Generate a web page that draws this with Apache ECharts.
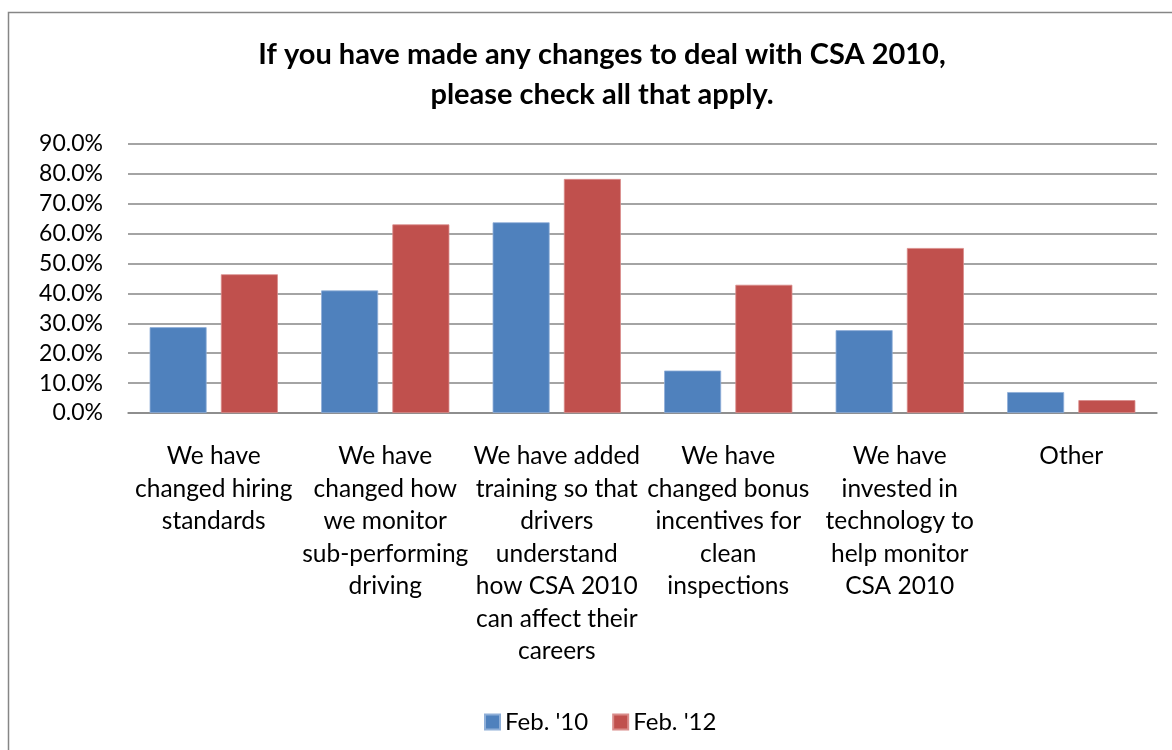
<!DOCTYPE html>
<html>
<head>
<meta charset="utf-8">
<script src="https://cdn.jsdelivr.net/npm/echarts@6/dist/echarts.min.js"></script>
<style>
  html, body { margin: 0; padding: 0; background: #fff; }
  #chart { width: 1172px; height: 750px; }
</style>
</head>
<body>
<div id="chart"></div>
<script>
// Survey answers, share of respondents (%)
const categories = [
  'We have\nchanged hiring\nstandards',
  'We have\nchanged how\nwe monitor\nsub-performing\ndriving',
  'We have added\ntraining so that\ndrivers\nunderstand\nhow CSA 2010\ncan affect their\ncareers',
  'We have\nchanged bonus\nincentives for\nclean\ninspections',
  'We have\ninvested in\ntechnology to\nhelp monitor\nCSA 2010',
  'Other'
];
const feb10 = [28.7, 41.0, 63.8, 14.2, 27.7, 7.0];
const feb12 = [46.4, 63.1, 78.3, 42.9, 55.2, 4.3];
const seriesNames = ['Feb. \'10', 'Feb. \'12'];
const titleLines = ['If you have made any changes to deal with CSA 2010,', 'please check all that apply.'];

const FONT = 'Lato, "Open Sans", sans-serif';
const chart = echarts.init(document.getElementById('chart'), null, { renderer: 'canvas' });

chart.setOption({
  animation: false,
  textStyle: { fontFamily: FONT },
  graphic: [{
    type: 'rect',
    shape: { x: 8.5, y: 12.5, width: 1180, height: 760 },
    style: { fill: 'none', stroke: '#868686', lineWidth: 1.5 },
    silent: true
  }],
  title: {
    text: titleLines.join('\n'),
    left: 597,
    top: 30,
    textAlign: 'center',
    textStyle: {
      fontFamily: FONT,
      fontSize: 29,
      fontWeight: 'bold',
      color: '#000',
      lineHeight: 40
    }
  },
  legend: {
    data: seriesNames,
    left: 479,
    top: 705,
    itemWidth: 15,
    itemHeight: 15,
    itemGap: 24,
    icon: 'rect',
    textStyle: { fontFamily: FONT, fontSize: 24, color: '#000' }
  },
  grid: { left: 128, right: 15, top: 144, bottom: 337, containLabel: false },
  xAxis: {
    type: 'category',
    data: categories,
    axisLine: { lineStyle: { color: '#868686', width: 1.5 } },
    axisTick: { show: false },
    axisLabel: {
      interval: 0,
      margin: 27,
      fontFamily: FONT,
      fontSize: 24.5,
      lineHeight: 32.5,
      color: '#000',
      align: 'center'
    }
  },
  yAxis: {
    type: 'value',
    min: 0,
    max: 90,
    interval: 10,
    axisLine: { show: false },
    axisTick: { show: false },
    splitLine: { lineStyle: { color: '#868686', width: 1.5 } },
    axisLabel: {
      margin: 25,
      fontFamily: FONT,
      fontSize: 23,
      color: '#000',
      formatter: v => v.toFixed(1) + '%'
    }
  },
  series: [
    {
      name: seriesNames[0],
      type: 'bar',
      data: feb10,
      barWidth: 57,
      barGap: '25%',
      itemStyle: { color: '#4F81BD', borderColor: '#8FAFD8', borderWidth: 0.8 }
    },
    {
      name: seriesNames[1],
      type: 'bar',
      data: feb12,
      barWidth: 57,
      barGap: '25%',
      itemStyle: { color: '#C0504D', borderColor: '#D98C8A', borderWidth: 0.8 }
    }
  ]
});
</script>
</body>
</html>
